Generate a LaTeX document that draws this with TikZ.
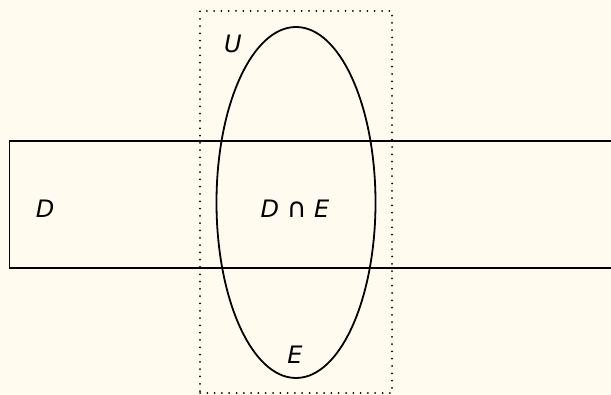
\documentclass[tikz,border=0pt]{standalone}
\usepackage{fontspec}
\setmainfont{DejaVu Sans}
\usetikzlibrary{shapes.geometric}
\definecolor{paper}{HTML}{FFFCEF}
\begin{document}
\begin{tikzpicture}[x=1pt, y=-1pt, every node/.style={font=\fontsize{24}{27}\selectfont\itshape}]
\fill[paper] (0,0) rectangle (611,395);
\useasboundingbox (0,0) rectangle (611,395);
\clip (0,0) rectangle (611,395);
\node[draw,line width=1.8pt,minimum width=640pt,minimum height=127pt,anchor=north west] (dset) at (8.5,140.5) {};
\node[draw,line width=1.8pt,ellipse,inner sep=0pt,minimum width=159pt,minimum height=351pt] (eset) at (296,202.5) {};
\node[draw,line width=2pt,line cap=round,dash pattern=on 0pt off 7.3pt,minimum width=192pt,minimum height=382pt] (uset) at (296,202) {};
\node (dlab) at (45,209) {D};
\node (delab) at (295,209) {D {\upshape\fontsize{27}{27}\selectfont ∩} E};
\node (ulab) at (233,44) {U};
\node (elab) at (295,355) {E};
\end{tikzpicture}
\end{document}
